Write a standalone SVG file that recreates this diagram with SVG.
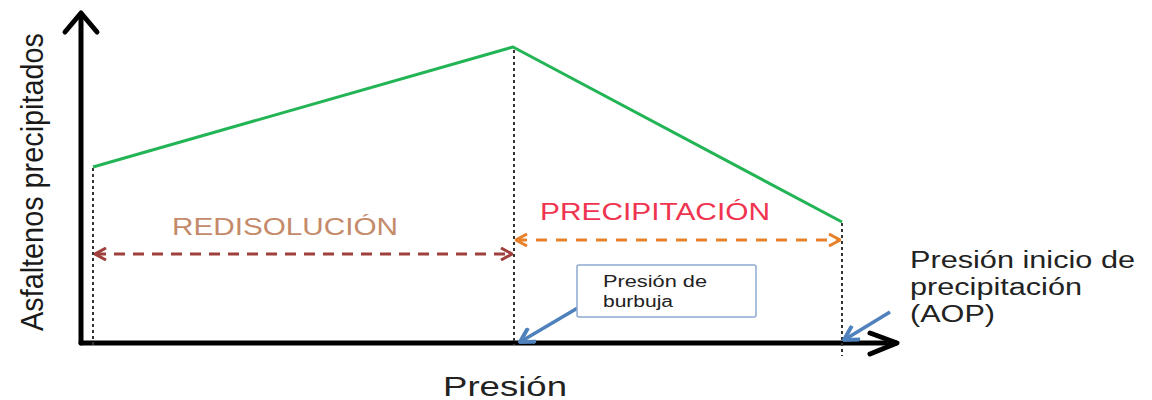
<svg xmlns="http://www.w3.org/2000/svg" width="1152" height="400" viewBox="0 0 1152 400">
<defs>
<style>
.t{font-family:"Liberation Sans",Arial,sans-serif}
.axis{stroke:#000;stroke-width:5;fill:none;stroke-linecap:round;stroke-linejoin:round}
.dot{stroke:#333;stroke-width:2;stroke-dasharray:3 3;fill:none}
.curve{stroke:#22b455;stroke-width:3;fill:none;stroke-linejoin:round}
.red{stroke:#a0403c;stroke-width:3;stroke-dasharray:11 8;fill:none}
.org{stroke:#e8822a;stroke-width:3;stroke-dasharray:11 9;fill:none}
.blue{stroke:#4f81bd;stroke-width:3.5;fill:none}
</style>
<marker id="hr" viewBox="0 0 14 14" refX="13" refY="7" markerWidth="14" markerHeight="14" markerUnits="userSpaceOnUse" orient="auto-start-reverse">
<path d="M2,1 L13,7 L2,13" fill="none" stroke="#a0403c" stroke-width="3"/>
</marker>
<marker id="ho" viewBox="0 0 14 14" refX="13" refY="7" markerWidth="14" markerHeight="14" markerUnits="userSpaceOnUse" orient="auto-start-reverse">
<path d="M2,1 L13,7 L2,13" fill="none" stroke="#e8822a" stroke-width="3"/>
</marker>
<marker id="hb" viewBox="0 0 18 18" refX="16" refY="9" markerWidth="18" markerHeight="18" markerUnits="userSpaceOnUse" orient="auto">
<path d="M2,1 L16,9 L2,17" fill="none" stroke="#4f81bd" stroke-width="4"/>
</marker>
</defs>
<rect width="1152" height="400" fill="#fff"/>

<g id="axes">
<path class="axis" d="M81,343 L81,14"/>
<path class="axis" d="M65,32 L81,13 L97,32"/>
<path class="axis" d="M81,343 L896,343"/>
<path class="axis" d="M870,333 L897,343 L870,354"/>
</g>

<g id="guides">
<path class="dot" d="M93,168 V345"/>
<path class="dot" d="M514,50 V345"/>
<path class="dot" d="M842,223 V356"/>
</g>

<g id="curve">
<path class="curve" d="M93,167 L513,47 L842,222"/>
</g>

<g id="connectors">
<path class="red" d="M95,254 L512,254" marker-start="url(#hr)" marker-end="url(#hr)"/>
<path class="org" d="M516,240 L840,240" marker-start="url(#ho)" marker-end="url(#ho)"/>
<path class="blue" d="M581,306 L520,342" marker-end="url(#hb)"/>
<path class="blue" d="M890,312 L844,340" marker-end="url(#hb)"/>
</g>

<g id="label-redisolucion">
<text class="t" x="172" y="235" font-size="24" fill="#c48a6a" textLength="226" lengthAdjust="spacingAndGlyphs">REDISOLUCIÓN</text>
</g>
<g id="label-precipitacion">
<text class="t" x="540" y="220" font-size="24" fill="#f0344f" textLength="230" lengthAdjust="spacingAndGlyphs">PRECIPITACIÓN</text>
</g>

<g id="node-burbuja">
<rect x="577" y="265" width="179" height="52" rx="2" fill="#fff" stroke="#8eaad0" stroke-width="1.5"/>
<text class="t" x="603" y="287" font-size="16" fill="#222" textLength="104" lengthAdjust="spacingAndGlyphs">Presión de</text>
<text class="t" x="603" y="307" font-size="16" fill="#222" textLength="70" lengthAdjust="spacingAndGlyphs">burbuja</text>
</g>

<g id="node-aop">
<text class="t" x="910" y="268" font-size="23" fill="#222" textLength="225" lengthAdjust="spacingAndGlyphs">Presión inicio de</text>
<text class="t" x="910" y="295" font-size="23" fill="#222" textLength="172" lengthAdjust="spacingAndGlyphs">precipitación</text>
<text class="t" x="910" y="322" font-size="23" fill="#222" textLength="85" lengthAdjust="spacingAndGlyphs">(AOP)</text>
</g>

<g id="label-x">
<text class="t" x="443" y="396" font-size="28" fill="#222" textLength="124" lengthAdjust="spacingAndGlyphs">Presión</text>
</g>
<g id="label-y">
<text class="t" transform="translate(43,182) rotate(-90)" x="0" y="0" text-anchor="middle" font-size="32" fill="#1a1a1a" textLength="298" lengthAdjust="spacingAndGlyphs">Asfaltenos precipitados</text>
</g>
</svg>
